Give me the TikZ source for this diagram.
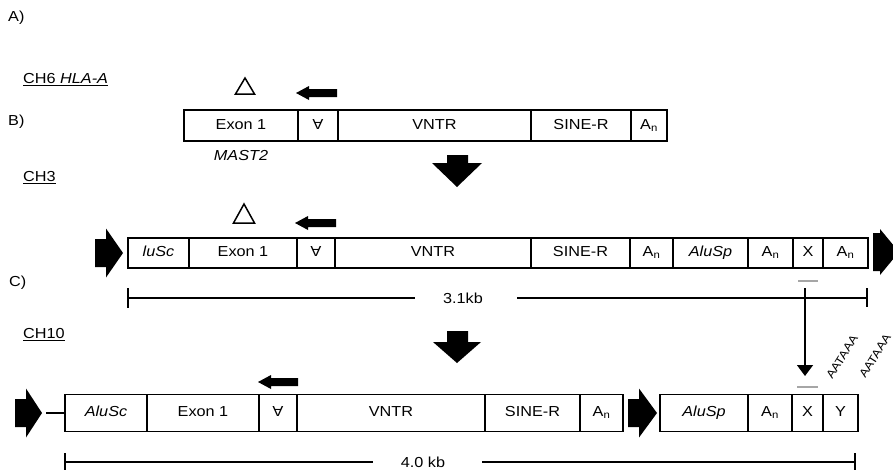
\documentclass[tikz,border=0pt]{standalone}
\usepackage{fontspec}
\setmainfont{Liberation Sans}[FakeStretch=1.12]
\usetikzlibrary{arrows.meta}
\newcommand\gseg[6]{\node[segbox, minimum width={#3-#2}, minimum height={#5}] (#1) at ({(#2+#3)/2},#4) {#6};}
\newcommand\bigrarrow[6]{\fill (#1,{#4-#5}) -- (#2,{#4-#5}) -- (#2,{#4-#6}) -- (#3,#4) -- (#2,{#4+#6}) -- (#2,{#4+#5}) -- (#1,{#4+#5}) -- cycle;}
\newcommand\smalllarrow[3]{\fill (#2,{#3-4}) -- ({#1+13},{#3-4}) -- ({#1+13},{#3-7}) -- (#1,#3) -- ({#1+13},{#3+7}) -- ({#1+13},{#3+4}) -- (#2,{#3+4}) -- cycle;}
\newcommand\bigdarrow[4]{\fill (447,#1) -- (468,#1) -- (468,#2) -- (#4,#2) -- (457,#3) -- ({914-#4},#2) -- (447,#2) -- cycle;}
\newcommand\rev{\rotatebox[origin=c]{180}{A}}
\newcommand\An{A\textsubscript{n}}
\begin{document}
\begin{tikzpicture}[x=1pt,y=-1pt,
  every node/.style={font=\fontsize{14.5}{17}\selectfont},
  segbox/.style={draw, line width=1.6pt, inner sep=0pt, rectangle, text height=10.4pt, text depth=2.8pt},
  lbl/.style={anchor=west, inner sep=0pt},
  scalebar/.style={line width=1.5pt},
  tri/.style={draw, line width=1.5pt, line join=miter},
  graybar/.style={draw=gray!70, line width=2.6pt},
  signal/.style={font=\fontsize{11.5}{13}\selectfont, rotate=58, inner sep=0pt}]
\useasboundingbox (0,0) rectangle (893,472);
\clip (0,0) rectangle (893,472);

% labels
\node[lbl] (la) at (8,18) {A)};
\node[lbl] (lb) at (8,122) {B)};
\node[lbl] (lc) at (9,283) {C)};
\node[lbl] (lch6) at (23,80) {\underline{CH6 \textit{HLA-A}}};
\node[lbl] (lch3) at (23,178) {\underline{CH3}};
\node[lbl] (lch10) at (23,335) {\underline{CH10}};

% Row B (CH6)
\gseg{b1}{184}{298}{125.5}{31}{Exon 1}
\gseg{b2}{298}{338}{125.5}{31}{\rev}
\gseg{b3}{338}{531}{125.5}{31}{VNTR}
\gseg{b4}{531}{631}{125.5}{31}{SINE-R}
\gseg{b5}{631}{667}{125.5}{31}{\An}
\node (mast) at (241,156) {\textit{MAST2}};
\draw[tri] (245,78) -- (254.5,94) -- (235.5,94) -- cycle;
\smalllarrow{296}{337}{93}
\bigdarrow{155}{163}{187}{482}

% Row CH3
\gseg{c1}{128}{189}{253}{30}{\textit{luSc}}
\gseg{c2}{189}{297}{253}{30}{Exon 1}
\gseg{c3}{297}{335}{253}{30}{\rev}
\gseg{c4}{335}{531}{253}{30}{VNTR}
\gseg{c5}{531}{630}{253}{30}{SINE-R}
\gseg{c6}{630}{673}{253}{30}{\An}
\gseg{c7}{673}{748}{253}{30}{\textit{AluSp}}
\gseg{c8}{748}{793}{253}{30}{\An}
\gseg{c9}{793}{823}{253}{30}{X}
\gseg{c10}{823}{868}{253}{30}{\An}
\draw[tri] (244,204) -- (254.5,223) -- (233.5,223) -- cycle;
\smalllarrow{295}{336}{223}
\bigrarrow{95}{106}{123}{253}{14}{24.5}
\bigrarrow{873}{880}{899}{252}{19}{23}

% scale 3.1kb
\node (s31) at (463,298) {3.1kb};
\coordinate (s31l) at (128,298);
\coordinate (s31r) at (867,298);
\draw[scalebar] (s31l) -- (415,298);
\draw[scalebar] (517,298) -- (s31r);
\draw[scalebar] (128,288) -- (128,308);
\draw[scalebar] (867,288) -- (867,307);

% gray marks and arrow
\draw[graybar] (798,281) -- (818,281);
\draw[graybar] (797,387) -- (818,387);
\coordinate (vtop) at (805,288);
\coordinate (vbot) at (805,376);
\draw[line width=1.5pt, -{Triangle[length=11pt,width=16pt]}] (vtop) -- (vbot);
\node[signal] (aat1) at (842,357) {AATAAA};
\node[signal] (aat2) at (875,356) {AATAAA};

\bigdarrow{331}{342}{363}{481}

% Row CH10
\gseg{d1}{65}{147}{413}{37}{\textit{AluSc}}
\gseg{d2}{147}{259}{413}{37}{Exon 1}
\gseg{d3}{259}{297}{413}{37}{\rev}
\gseg{d4}{297}{485}{413}{37}{VNTR}
\gseg{d5}{485}{580}{413}{37}{SINE-R}
\gseg{d6}{580}{623}{413}{37}{\An}
\gseg{e1}{660}{748}{413}{37}{\textit{AluSp}}
\gseg{e2}{748}{792}{413}{37}{\An}
\gseg{e3}{792}{823}{413}{37}{X}
\gseg{e4}{823}{858}{413}{37}{Y}
\smalllarrow{258}{298}{382}
\bigrarrow{15}{26}{42}{413}{14}{24.5}
\coordinate (lead) at (46,413);
\draw[line width=1.3pt] (lead) -- (d1.west);
\bigrarrow{628}{639}{657}{413}{14}{24.5}

% scale 4.0 kb
\node (s40) at (423,462) {4.0 kb};
\coordinate (s40l) at (65,462);
\coordinate (s40r) at (855,462);
\draw[scalebar] (s40l) -- (373,462);
\draw[scalebar] (482,462) -- (s40r);
\draw[scalebar] (65,453) -- (65,470);
\draw[scalebar] (855,453) -- (855,470);
\end{tikzpicture}
\end{document}
